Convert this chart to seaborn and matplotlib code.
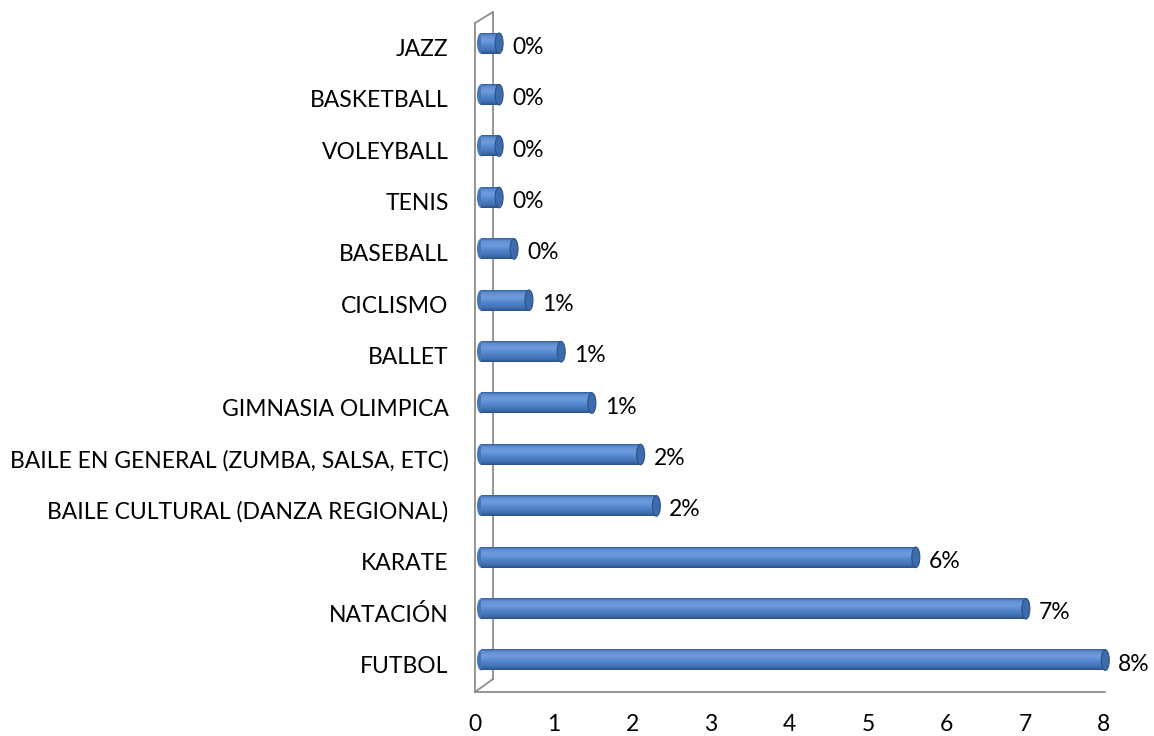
import matplotlib
matplotlib.use("Agg")
import matplotlib.pyplot as plt
import matplotlib.transforms as mtransforms
from matplotlib.patches import Ellipse
from matplotlib.lines import Line2D
from matplotlib.colors import LinearSegmentedColormap
import numpy as np
import pandas as pd
import seaborn as sns

# ---- data (top to bottom as shown) ----
categories = ["JAZZ", "BASKETBALL", "VOLEYBALL", "TENIS", "BASEBALL", "CICLISMO",
              "BALLET", "GIMNASIA OLIMPICA", "BAILE EN GENERAL (ZUMBA, SALSA, ETC)",
              "BAILE CULTURAL (DANZA REGIONAL)", "KARATE", "NATACIÓN", "FUTBOL"]
values = [0.23, 0.23, 0.23, 0.23, 0.42, 0.61, 1.02, 1.41, 2.03, 2.23, 5.53, 6.93, 7.94]
value_labels = ["0%", "0%", "0%", "0%", "0%", "1%", "1%", "1%", "2%", "2%", "6%", "7%", "8%"]
x_ticks = [0, 1, 2, 3, 4, 5, 6, 7, 8]

df = pd.DataFrame({"deporte": categories, "valor": values})

sns.set_theme(style="white")
plt.rcParams["font.family"] = ["Lato", "DejaVu Sans"]

FS = 16.5
W, H = 1154, 736
fig = plt.figure(figsize=(W / 100, H / 100), dpi=100)
ax_left, ax_right, ax_top, ax_bottom = 475, 1104, 23, 692
ax = fig.add_axes([ax_left / W, 1 - ax_bottom / H, (ax_right - ax_left) / W, (ax_bottom - ax_top) / H])

bar_h = 0.4
sns.barplot(data=df, x="valor", y="deporte", order=categories, orient="h",
            color="#4F81BD", width=bar_h, ax=ax, zorder=3)

ylim = (12.62, -0.395)
ax.set_xlim(0, 8)
ax.set_ylim(*ylim)

shift = mtransforms.ScaledTranslation(6 / 100, 0, fig.dpi_scale_trans)
tr = ax.transData + shift

cmap = LinearSegmentedColormap.from_list(
    "cyl", [(0.0, "#34609E"), (0.12, "#5F8FD3"), (0.35, "#6E9CDD"),
            (0.6, "#5185CB"), (0.85, "#3F6FB2"), (1.0, "#2C5189")])
grad = np.linspace(0, 1, 64).reshape(-1, 1)
px_per_unit = (ax_right - ax_left) / 8.0
cap_w = 8 / px_per_unit

for p, v, lab in zip(ax.patches, values, value_labels):
    y0 = p.get_y()
    h = p.get_height()
    c = y0 + h / 2
    p.set_visible(False)
    # left rounded end
    le = Ellipse((0, c), width=cap_w, height=h, facecolor="#4676B9",
                 edgecolor="none", transform=tr, zorder=3, clip_on=False)
    ax.add_patch(le)
    im = ax.imshow(grad, cmap=cmap, aspect="auto", interpolation="bilinear",
                   extent=[0, v, c + h / 2, c - h / 2], origin="upper", zorder=4)
    im.set_transform(tr)
    im.set_clip_on(False)
    # right cap
    rc = Ellipse((v, c), width=cap_w, height=h, facecolor="#3E6BAA",
                 edgecolor="#2C5189", linewidth=0.8, transform=tr, zorder=5, clip_on=False)
    ax.add_patch(rc)
    ax.annotate(lab, xy=(v, c), xytext=(19, -4), textcoords="offset pixels",
                ha="left", va="center", fontsize=FS, color="black",
                annotation_clip=False, zorder=6)

ax.set_xlim(0, 8)
ax.set_ylim(*ylim)
ax.set_xticks(x_ticks)
ax.set_xticklabels([str(t) for t in x_ticks])
ax.set_xlabel("")
ax.set_ylabel("")
for s in ax.spines.values():
    s.set_visible(False)
ax.tick_params(axis="y", length=0, pad=19, labelsize=FS, colors="black")
ax.tick_params(axis="x", length=0, pad=16, labelsize=FS, colors="black")
down = mtransforms.ScaledTranslation(0, -4 / 100, fig.dpi_scale_trans)
for t in ax.get_yticklabels():
    t.set_transform(t.get_transform() + down)

# 3D frame (walls & floor edges)
def fl(x1, y1, x2, y2):
    ax.add_line(Line2D([x1 / W, x2 / W], [1 - y1 / H, 1 - y2 / H], transform=fig.transFigure,
                       color="#8C8C8C", linewidth=1.3, clip_on=False, zorder=1))

fl(475, 23, 475, 692)
fl(493, 12, 493, 679)
fl(475, 23, 493, 12)
fl(475, 692, 493, 679)
fl(475, 692, 1105, 692)

fig.savefig("out.png", dpi=100)
